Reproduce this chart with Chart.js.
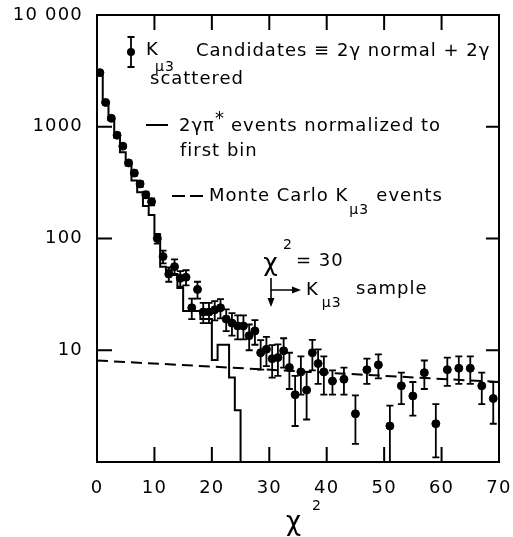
<!DOCTYPE html>
<html>
<head>
<meta charset="utf-8">
<script src="https://cdn.jsdelivr.net/npm/chart.js@4.4.1/dist/chart.umd.min.js"></script>
<style>
  html, body { margin: 0; padding: 0; background: #fff; }
  canvas { display: block; }
</style>
</head>
<body>
<canvas id="chart" width="513" height="537"></canvas>
<script>
// K-mu3 candidates (chi^2 bin centres, counts, errors)
const candX = [0.5, 1.5, 2.5, 3.5, 4.5, 5.5, 6.5, 7.5, 8.5, 9.5,
  10.5, 11.5, 12.5, 13.5, 14.5, 15.5, 16.5, 17.5, 18.5, 19.5,
  20.5, 21.5, 22.5, 23.5, 24.5, 25.5, 26.5, 27.5, 28.5, 29.5,
  30.5, 31.5, 32.5, 33.5, 34.5, 35.5, 36.5, 37.5, 38.5, 39.5,
  41, 43, 45, 47, 49, 51, 53, 55, 57, 59, 61, 63, 65, 67, 69];
const candY = [3050, 1650, 1190, 840, 670, 475, 385, 308, 246, 213,
  100, 69, 48, 56, 44, 45, 24, 35, 22, 22,
  23, 24, 19, 17.5, 16.5, 16.5, 13.5, 14.9, 9.5, 10.2,
  8.4, 8.6, 9.9, 7.0, 4.0, 6.4, 4.4, 9.5, 7.6, 6.4,
  5.3, 5.5, 2.7, 6.7, 7.4, 2.1, 4.8, 3.9, 6.3, 2.2, 6.7, 6.9, 6.9, 4.8, 3.7];
const candErr = [50, 40, 35, 30, 26, 22, 20, 18, 16, 15,
  10, 9, 7, 9, 7, 7, 5, 6, 4.5, 4.5,
  4.5, 4.7, 4.2, 4, 4, 4, 3.5, 3.7, 2.8, 3,
  2.7, 2.7, 2.9, 2.5, 1.9, 2.4, 2.0, 2.9, 2.6, 2.4,
  1.3, 1.5, 1.25, 1.7, 1.8, 1.1, 1.5, 1.3, 1.8, 1.1, 1.9, 1.9, 1.9, 1.5, 1.5];

// 2 gamma pi* events, histogram bin edges and contents
const histEdges = [0, 1, 2, 3, 4, 5, 6, 7, 8, 9, 10, 11, 12, 13, 14, 15, 16, 17, 18, 19, 20, 21, 22, 23, 24, 25, 26];
const histVals = [3000, 1650, 1150, 800, 590, 450, 330, 260, 195, 162, 108, 56, 52, 48, 36, 22.4, 22.4, 22.4, 19, 19, 8.2, 11.2, 11.2, 5.7, 2.9, 1, 1];

// Monte Carlo K-mu3 line
const mcX = [0, 70];
const mcY = [8.1, 5.2];

const yTickVals = [10, 100, 1000, 10000];
const yTickLabels = ["10", "100", "1000", "10 000"];
const xTickVals = [10, 20, 30, 40, 50, 60];

const FONT = '"DejaVu Sans", sans-serif';
const INK = "#000";

function txt(ctx, s, x, y, size, align) {
  ctx.font = size + "px " + FONT;
  ctx.letterSpacing = "1px";
  ctx.textAlign = align || "left";
  ctx.textBaseline = "middle";
  ctx.fillText(s, x, y);
  return x + ctx.measureText(s).width;
}

function arrowHead(ctx, x, y, dir) {
  ctx.beginPath();
  if (dir === "down") {
    ctx.moveTo(x, y); ctx.lineTo(x - 3.5, y - 9); ctx.lineTo(x + 3.5, y - 9);
  } else {
    ctx.moveTo(x, y); ctx.lineTo(x - 9, y - 3.5); ctx.lineTo(x - 9, y + 3.5);
  }
  ctx.closePath();
  ctx.fill();
}

// wider lettering for the tick labels too
const spacing = {
  id: "spacing",
  beforeDraw(chart) { chart.ctx.letterSpacing = "1.2px"; }
};

const errorBars = {
  id: "errorBars",
  beforeDatasetsDraw(chart) {
    const ctx = chart.ctx;
    const xs = chart.scales.x, ys = chart.scales.y;
    const area = chart.chartArea;
    ctx.save();
    ctx.beginPath();
    ctx.rect(area.left, area.top, area.right - area.left, area.bottom - area.top);
    ctx.clip();
    ctx.strokeStyle = INK;
    ctx.lineWidth = 1.8;
    candX.forEach((x, i) => {
      const px = xs.getPixelForValue(x);
      const lo = Math.max(candY[i] - candErr[i], 1);
      const top = ys.getPixelForValue(candY[i] + candErr[i]);
      const bot = ys.getPixelForValue(lo);
      ctx.beginPath();
      ctx.moveTo(px, top); ctx.lineTo(px, bot);
      ctx.moveTo(px - 3.5, top); ctx.lineTo(px + 3.5, top);
      if (candY[i] - candErr[i] > 1) { ctx.moveTo(px - 3.5, bot); ctx.lineTo(px + 3.5, bot); }
      ctx.stroke();
    });
    ctx.restore();
  }
};

const frameAndText = {
  id: "frameAndText",
  afterDraw(chart) {
    const ctx = chart.ctx;
    const xs = chart.scales.x, ys = chart.scales.y;
    const a = chart.chartArea;
    ctx.save();
    ctx.strokeStyle = INK;
    ctx.fillStyle = INK;
    ctx.lineWidth = 2;
    ctx.strokeRect(a.left, a.top, a.right - a.left, a.bottom - a.top);

    // inward ticks
    ctx.beginPath();
    xTickVals.forEach(v => {
      const px = xs.getPixelForValue(v);
      ctx.moveTo(px, a.bottom); ctx.lineTo(px, a.bottom - 15);
      ctx.moveTo(px, a.top); ctx.lineTo(px, a.top + 15);
    });
    yTickVals.forEach(v => {
      const py = ys.getPixelForValue(v);
      ctx.moveTo(a.left, py); ctx.lineTo(a.left + 15, py);
      ctx.moveTo(a.right, py); ctx.lineTo(a.right - 13, py);
    });
    ctx.stroke();

    // x axis title
    txt(ctx, "χ", 294, 523, 26, "center");
    txt(ctx, "2", 312, 506, 14, "left");

    // legend: candidates
    ctx.lineWidth = 1.8;
    ctx.beginPath();
    ctx.moveTo(131, 37); ctx.lineTo(131, 67);
    ctx.moveTo(127.5, 37); ctx.lineTo(134.5, 37);
    ctx.moveTo(127.5, 67); ctx.lineTo(134.5, 67);
    ctx.stroke();
    ctx.beginPath(); ctx.arc(131, 52, 4, 0, Math.PI * 2); ctx.fill();
    txt(ctx, "K", 146, 50, 18);
    txt(ctx, "μ3", 155, 67, 14);
    txt(ctx, "Candidates ≡ 2γ normal + 2γ", 196, 51, 18);
    txt(ctx, "scattered", 150, 79, 18);

    // legend: 2 gamma pi*
    ctx.lineWidth = 2;
    ctx.beginPath(); ctx.moveTo(146, 125); ctx.lineTo(168, 125); ctx.stroke();
    let e = txt(ctx, "2γπ", 179, 126, 18);
    txt(ctx, "*", e, 119, 18);
    txt(ctx, "events normalized to", e + 16, 126, 18);
    txt(ctx, "first bin", 180, 151, 18);

    // legend: Monte Carlo
    ctx.setLineDash([13, 5]);
    ctx.beginPath(); ctx.moveTo(172, 196); ctx.lineTo(204, 196); ctx.stroke();
    ctx.setLineDash([]);
    e = txt(ctx, "Monte Carlo K", 209, 196, 18);
    txt(ctx, "μ3", e + 1, 210, 14);
    txt(ctx, "events", e + 28, 196, 18);

    // chi^2 = 30 cut
    const cx = xs.getPixelForValue(30.3);
    txt(ctx, "χ", cx, 264, 25, "center");
    txt(ctx, "2", cx + 12, 245, 14);
    txt(ctx, "= 30", cx + 25, 261, 18);
    ctx.lineWidth = 1.6;
    ctx.beginPath();
    ctx.moveTo(cx, 278); ctx.lineTo(cx, 300);
    ctx.moveTo(cx, 290); ctx.lineTo(cx + 24, 290);
    ctx.stroke();
    arrowHead(ctx, cx, 307, "down");
    arrowHead(ctx, cx + 30, 290, "right");
    e = txt(ctx, "K", cx + 35, 290, 18);
    txt(ctx, "μ3", e + 3, 303, 14);
    txt(ctx, "sample", cx + 85, 289, 18);
    ctx.restore();
  }
};

new Chart(document.getElementById("chart"), {
  type: "scatter",
  data: {
    datasets: [
      {
        type: "line",
        label: "2γπ* events",
        data: histEdges.map((x, i) => ({ x: x, y: histVals[i] })),
        stepped: "before",
        borderColor: INK,
        borderWidth: 2,
        pointRadius: 0,
        fill: false
      },
      {
        type: "line",
        label: "Monte Carlo",
        data: mcX.map((x, i) => ({ x: x, y: mcY[i] })),
        borderColor: INK,
        borderWidth: 2,
        borderDash: [11, 6],
        pointRadius: 0,
        fill: false
      },
      {
        label: "Candidates",
        data: candX.map((x, i) => ({ x: x, y: candY[i] })),
        backgroundColor: INK,
        borderColor: INK,
        pointRadius: 4,
        pointHoverRadius: 4
      }
    ]
  },
  options: {
    responsive: false,
    animation: false,
    events: [],
    layout: { padding: { top: 15, right: 14, left: 0, bottom: 0 } },
    plugins: { legend: { display: false }, tooltip: { enabled: false } },
    scales: {
      x: {
        type: "linear",
        min: 0,
        max: 70,
        grid: { display: false },
        border: { display: false },
        ticks: {
          stepSize: 10,
          color: INK,
          padding: 8,
          font: { family: FONT, size: 18 }
        },
        afterFit(scale) {
          scale.height = 75;
          scale.paddingLeft = 0;
          scale.paddingRight = 0;
        }
      },
      y: {
        type: "logarithmic",
        min: 1,
        max: 10000,
        grid: { display: false },
        border: { display: false },
        afterBuildTicks(scale) { scale.ticks = yTickVals.map(v => ({ value: v })); },
        ticks: {
          autoSkip: false,
          color: INK,
          padding: 6,
          font: { family: FONT, size: 18 },
          callback: (v, i) => yTickLabels[i]
        },
        afterFit(scale) {
          scale.width = 97;
          scale.paddingTop = 0;
          scale.paddingBottom = 0;
        }
      }
    }
  },
  plugins: [spacing, errorBars, frameAndText]
});
</script>
</body>
</html>
